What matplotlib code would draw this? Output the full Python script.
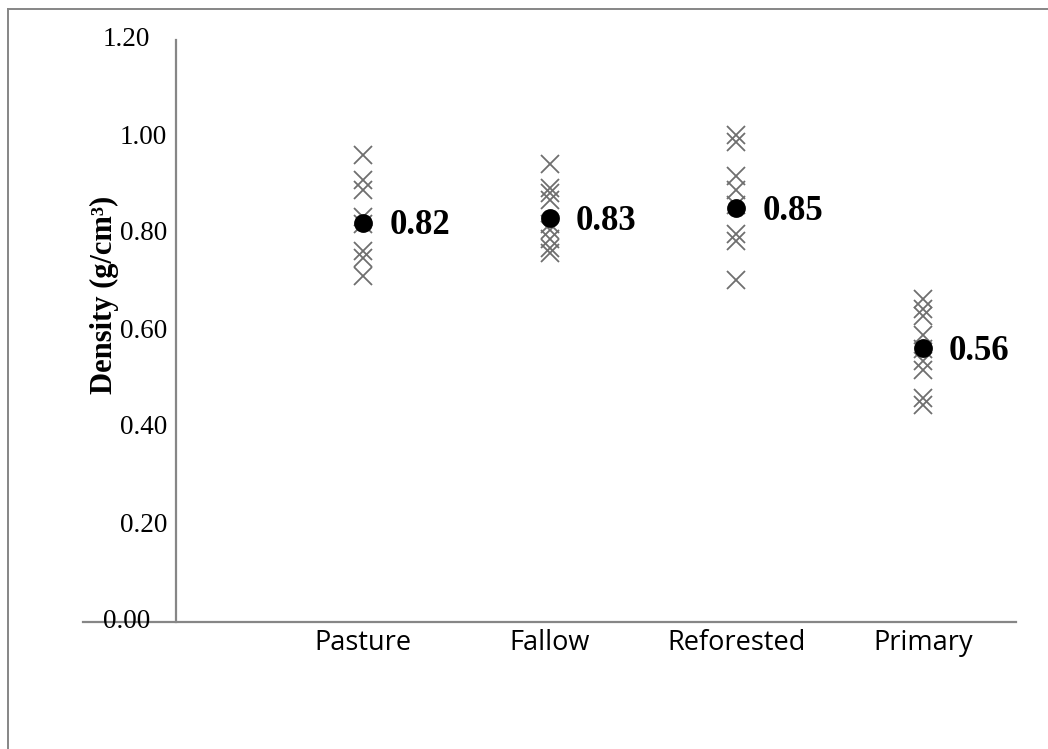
import numpy as np
import matplotlib
matplotlib.use("Agg")
import matplotlib.pyplot as plt
from matplotlib.lines import Line2D
from matplotlib.transforms import blended_transform_factory

# ---------------------------------------------------------------- data
categories = ["", "Pasture", "Fallow", "Reforested", "Primary"]
pasture = [0.963, 0.912, 0.890, 0.835, 0.820, 0.765, 0.750, 0.713]
fallow = [0.945, 0.895, 0.885, 0.870, 0.820, 0.808, 0.790, 0.772, 0.760]
reforested = [1.005, 0.990, 0.920, 0.890, 0.860, 0.800, 0.785, 0.705]
primary = [0.665, 0.645, 0.630, 0.592, 0.562, 0.538, 0.520, 0.462, 0.447]
means = [0.823, 0.832, 0.853, 0.564]
yticks = [0.0, 0.2, 0.4, 0.6, 0.8, 1.0, 1.2]

W, H = 1048, 749
fig = plt.figure(figsize=(W / 100, H / 100), dpi=100)
ax = fig.add_axes([83 / W, 1 - 622 / H, (1016 - 83) / W, (622 - 40) / H])

grey = "#868686"
groups = [pasture, fallow, reforested, primary]
for i, vals in enumerate(groups):
    xpos = np.full(len(vals), i + 2)
    ax.plot(xpos, vals, ls="none", marker="x", ms=13.5, mew=1.3,
            color="#6f6f6f", zorder=2)
for i, m in enumerate(means):
    ax.plot(i + 2, m, ls="none", marker="o", ms=12.5, color="black",
            zorder=3)
    ax.annotate(f"{m:.2f}", (i + 2, m), xytext=(19, -2),
                textcoords="offset points", va="center", ha="left",
                fontsize=25, fontweight="bold", family="Liberation Serif")

ax.set_xlim(0.5, 5.5)
ax.set_ylim(0, 1.2)
ax.set_xticks(range(1, 6))
ax.set_xticklabels(categories, fontsize=19.5, family="Open Sans")
ax.tick_params(axis="x", length=0, pad=5)
ax.set_yticks(yticks)
ax.set_yticklabels([])
ax.tick_params(axis="y", length=0)

# y tick labels drawn as text (outer ones sit further left, as in the source)
tr = blended_transform_factory(ax.transAxes, ax.transData)
for v in yticks:
    right = 150 if v in (0.0, 1.2) else 167
    ax.text((right - 83) / (1016 - 83), v, f"{v:.2f}", transform=tr,
            ha="right", va="center", fontsize=19.5,
            family="Liberation Serif", clip_on=False)

for s in ("top", "right"):
    ax.spines[s].set_visible(False)
ax.spines["left"].set_position(("data", 1))
for s in ("left", "bottom"):
    ax.spines[s].set_color(grey)
    ax.spines[s].set_linewidth(1.6)

fig.text(104 / W, 1 - 295 / H, "Density (g/cm³)", rotation=90,
         ha="center", va="center", fontsize=22, fontweight="bold",
         family="Liberation Serif")

# chart-area frame (left and top edges visible in the crop)
fig.add_artist(Line2D([8 / W, 8 / W], [0, 1 - 9 / H], color=grey, lw=1.4))
fig.add_artist(Line2D([8 / W, 1], [1 - 9 / H, 1 - 9 / H], color=grey,
                      lw=1.4))

fig.savefig("out.png", dpi=100)
plt.close(fig)
